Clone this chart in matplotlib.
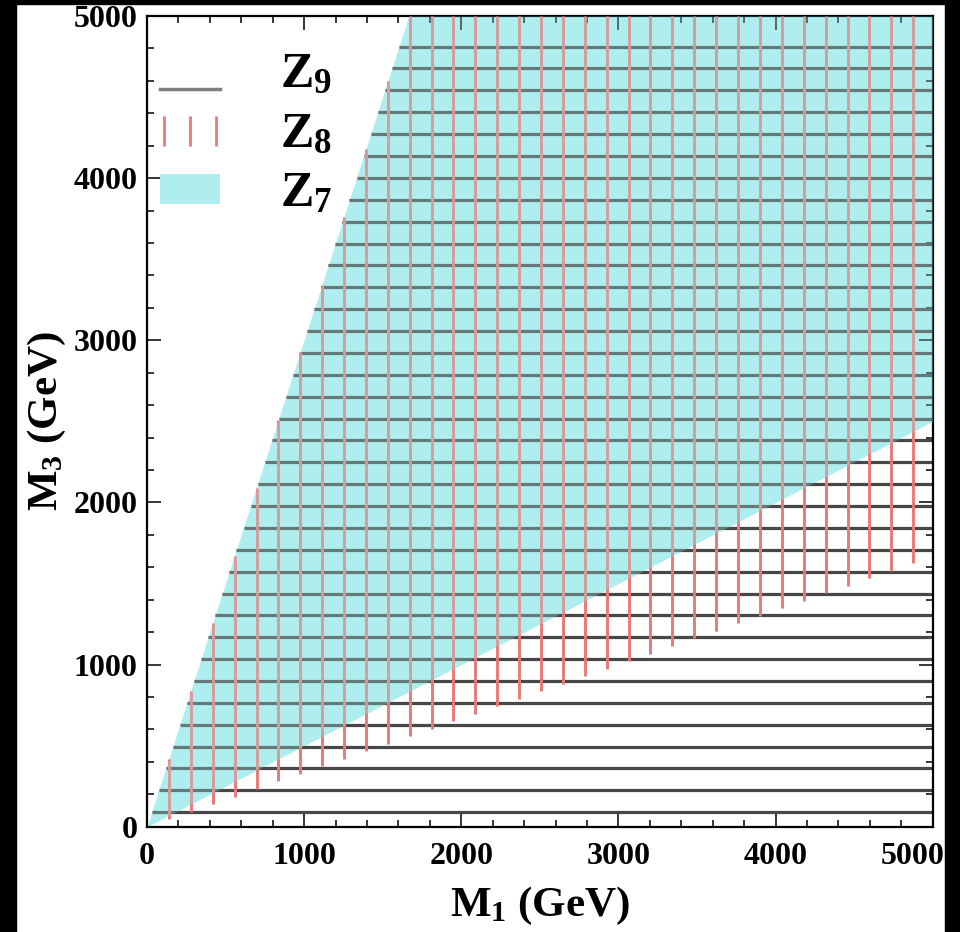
import numpy as np
import matplotlib
matplotlib.use("Agg")
import matplotlib.pyplot as plt
from matplotlib.lines import Line2D
from matplotlib.patches import Patch, Rectangle
from matplotlib.legend_handler import HandlerLine2D
from matplotlib.transforms import ScaledTranslation

plt.rcParams['font.family'] = ['Liberation Serif', 'DejaVu Serif']
plt.rcParams['font.weight'] = 'bold'
plt.rcParams['mathtext.fontset'] = 'custom'
plt.rcParams['mathtext.rm'] = 'Liberation Serif:bold'
plt.rcParams['mathtext.it'] = 'Liberation Serif:bold'
plt.rcParams['mathtext.bf'] = 'Liberation Serif:bold'

# scan points (GeV)
m1_scan = np.array([139, 279, 418, 557, 697, 836, 975, 1114, 1254, 1393, 1532, 1672,
                    1811, 1950, 2090, 2229, 2368, 2507, 2647, 2786, 2925, 3065, 3204,
                    3343, 3483, 3622, 3761, 3900, 4040, 4179, 4318, 4458, 4597, 4736, 4876])
m3_scan = np.array([89, 224, 359, 494, 629, 764, 898, 1033, 1168, 1303, 1438, 1573,
                    1708, 1843, 1978, 2113, 2247, 2382, 2517, 2652, 2787, 2922, 3057,
                    3192, 3327, 3461, 3596, 3731, 3866, 4001, 4136, 4271, 4406, 4541,
                    4676, 4811])

# region boundaries as M3/M1 ratios
z9_upper = 3.0
z8_lower, z8_upper = 1 / 3, 3.0
z7_lower, z7_upper = 0.5, 3.0

m_max = 5000
labels = [r'Z$_9$', r'Z$_8$', r'Z$_7$']

cyan = '#aeeeee'
red = '#e67a7a'
grey = '#474747'


class LowLine(HandlerLine2D):
    # legend line drawn near the bottom of its row, as in the original
    def create_artists(self, legend, orig_handle, xdescent, ydescent, width,
                       height, fontsize, trans):
        return super().create_artists(legend, orig_handle, xdescent, ydescent + 26,
                                      width, height, fontsize, trans)


fig = plt.figure(figsize=(9.6, 9.32), dpi=100, facecolor='white')
ax = fig.add_axes([0.1531, 0.1130, 0.8185, 0.8699])

# Z7 band
x = np.linspace(0, m_max, 1001)
ax.fill_between(x, z7_lower * x, np.minimum(z7_upper * x, m_max),
                color=cyan, lw=0, zorder=1)

# Z9: horizontal lines
ax.hlines(m3_scan, m3_scan / z9_upper, m_max, color=grey, lw=2.3, zorder=2)
# Z8: vertical lines
ax.vlines(m1_scan, m1_scan * z8_lower, np.minimum(m1_scan * z8_upper, m_max),
          color=red, lw=2.1, zorder=3)

# light tint on top of the lines inside Z7
ax.fill_between(x, z7_lower * x, np.minimum(z7_upper * x, m_max),
                color=cyan, alpha=0.3, lw=0, zorder=4)

ax.set_xlim(0, m_max)
ax.set_ylim(0, m_max)
ax.set_xticks(np.arange(0, 5001, 1000))
ax.set_yticks(np.arange(0, 5001, 1000))
ax.set_xticks(np.arange(0, 5001, 200), minor=True)
ax.set_yticks(np.arange(0, 5001, 200), minor=True)
ax.tick_params(which='both', direction='in', top=True, right=True, width=1.1)
ax.tick_params(which='major', length=10, labelsize=23)
ax.tick_params(which='minor', length=5)
ax.tick_params(axis='x', pad=11)
ax.tick_params(axis='y', pad=7)
for s in ax.spines.values():
    s.set_linewidth(1.6)

# last x label sits a bit to the left in the original
last = ax.xaxis.get_major_ticks()[-1].label1
last.set_transform(last.get_transform() + ScaledTranslation(-0.2, 0, fig.dpi_scale_trans))

ax.set_xlabel(r'M$_1$ (GeV)', fontsize=31, fontweight='bold', labelpad=10)
ax.set_ylabel(r'M$_3$ (GeV)', fontsize=31, fontweight='bold', labelpad=4)

z9_handle = Line2D([], [], color='#808080', lw=2.5)
z8_handle = Line2D([], [], color=red, ls='none', marker='|', markersize=22, mew=2)
handles = [z9_handle, z8_handle, Patch(facecolor=cyan, edgecolor='none')]
ax.legend(handles, labels, loc='upper left', bbox_to_anchor=(0.0166, 0.955),
          frameon=False, numpoints=3, fontsize=36, handlelength=1.2,
          handleheight=0.55, handletextpad=1.2, labelspacing=0.27,
          borderpad=0, borderaxespad=0,
          handler_map={z9_handle: LowLine(marker_pad=0),
                       z8_handle: HandlerLine2D(marker_pad=0.08)})

# black frame of the scanned picture
for r in [(0, 0, 16 / 960, 1), (945 / 960, 0, 15 / 960, 1), (0, 928 / 932, 1, 4 / 932)]:
    fig.add_artist(Rectangle(r[:2], r[2], r[3], transform=fig.transFigure,
                             color='black', zorder=10))

fig.savefig('out.png', dpi=100, facecolor=fig.get_facecolor())
